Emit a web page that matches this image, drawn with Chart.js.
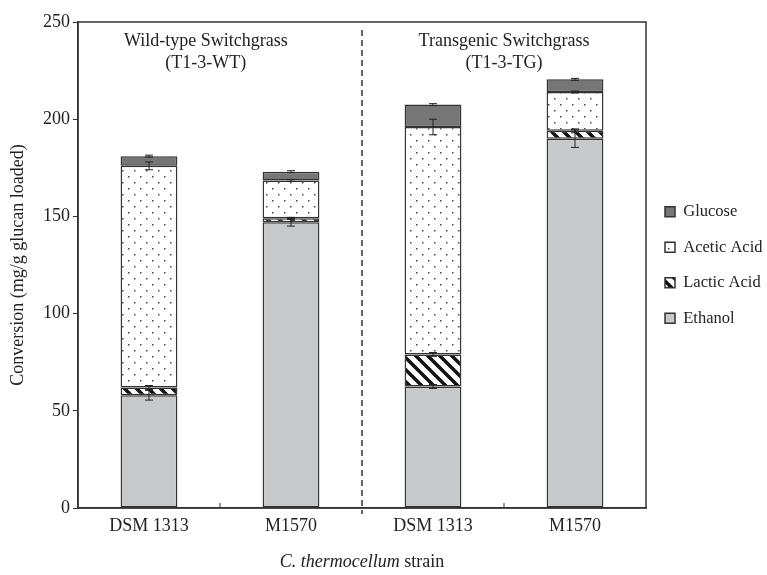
<!DOCTYPE html>
<html>
<head>
<meta charset="utf-8">
<script src="https://cdn.jsdelivr.net/npm/chart.js@4/dist/chart.umd.min.js"></script>
<style>
  html, body { margin: 0; padding: 0; background: #fff; }
  #wrap { width: 767px; height: 575px; }
</style>
</head>
<body>
<div id="wrap"><canvas id="chart"></canvas></div>
<script>
// Datos (mg/g glucan loaded)
const strains = ['DSM 1313', 'M1570', 'DSM 1313', 'M1570'];
const groupTitles = [['Wild-type Switchgrass', '(T1-3-WT)'], ['Transgenic Switchgrass', '(T1-3-TG)']];
const yTicks = [0, 50, 100, 150, 200, 250];

const ethanol = [58, 147, 62.5, 190];
const lacticAcid = [4, 2, 16.5, 4];
const aceticAcid = [114, 19.5, 117, 20];
const glucose = [5, 4.5, 11.5, 6.5];

// barras de error (en la parte superior de cada segmento)
const ethanolErr = [2.5, 2, 1, 4.5];
const lacticErr = [1, 0.5, 1, 1];
const aceticErr = [2, 0.5, 4, 0.5];
const glucoseErr = [0.5, 0.5, 0.5, 0.5];

const SERIF = '"Liberation Serif", "Times New Roman", serif';
const INK = '#222';

function patronPuntos() {
    const c = document.createElement('canvas');
    c.width = 12; c.height = 12;
    const g = c.getContext('2d');
    g.fillStyle = '#fff';
    g.fillRect(0, 0, 12, 12);
    g.fillStyle = '#444';
    g.fillRect(2, 2, 1.5, 1.5);
    g.fillRect(8, 8, 1.5, 1.5);
    return g.createPattern(c, 'repeat');
}

function patronRayas() {
    const c = document.createElement('canvas');
    c.width = 12; c.height = 12;
    const g = c.getContext('2d');
    g.fillStyle = '#fff';
    g.fillRect(0, 0, 12, 12);
    g.strokeStyle = '#111';
    g.lineWidth = 3.5;
    g.beginPath();
    g.moveTo(-3, -3); g.lineTo(15, 15);
    g.moveTo(-3, 9); g.lineTo(3, 15);
    g.moveTo(9, -3); g.lineTo(15, 3);
    g.stroke();
    return g.createPattern(c, 'repeat');
}

const seriesErr = [ethanolErr, lacticErr, aceticErr, glucoseErr];

const decoracion = {
    id: 'decoracion',
    afterDatasetsDraw(chart) {
        const ctx = chart.ctx;
        const area = chart.chartArea;
        const x = chart.scales.x;
        const y = chart.scales.y;
        ctx.save();

        // barras de error
        ctx.strokeStyle = INK;
        ctx.lineWidth = 1;
        chart.data.datasets.forEach((ds, i) => {
            const meta = chart.getDatasetMeta(i);
            ds.data.forEach((v, j) => {
                let top = 0;
                for (let k = 0; k <= i; k++) top += chart.data.datasets[k].data[j];
                const e = seriesErr[i][j];
                const px = meta.data[j].x;
                const y1 = y.getPixelForValue(top - e);
                const y2 = y.getPixelForValue(top + e);
                ctx.beginPath();
                ctx.moveTo(px, y1); ctx.lineTo(px, y2);
                ctx.moveTo(px - 4, y1); ctx.lineTo(px + 4, y1);
                ctx.moveTo(px - 4, y2); ctx.lineTo(px + 4, y2);
                ctx.stroke();
            });
        });

        // marco
        ctx.strokeStyle = '#333';
        ctx.lineWidth = 1.5;
        ctx.strokeRect(area.left, area.top, area.right - area.left, area.bottom - area.top);

        // marcas entre categorías (hacia dentro)
        ctx.lineWidth = 1;
        [0.5, 2.5].forEach(v => {
            const px = x.getPixelForValue(v);
            ctx.beginPath();
            ctx.moveTo(px, area.bottom); ctx.lineTo(px, area.bottom - 5);
            ctx.stroke();
        });

        // línea discontinua separadora
        const mid = x.getPixelForValue(1.5);
        ctx.setLineDash([6, 4]);
        ctx.lineWidth = 1.5;
        ctx.beginPath();
        ctx.moveTo(mid, area.top + 8);
        ctx.lineTo(mid, area.bottom + 6);
        ctx.stroke();
        ctx.setLineDash([]);

        // títulos de grupo
        ctx.fillStyle = INK;
        ctx.font = '18px ' + SERIF;
        ctx.textAlign = 'center';
        ctx.textBaseline = 'middle';
        [0.4, 2.5].forEach((v, i) => {
            const px = x.getPixelForValue(v);
            ctx.fillText(groupTitles[i][0], px, area.top + 19);
            ctx.fillText(groupTitles[i][1], px, area.top + 41);
        });

        // título del eje x con parte en cursiva
        const cx = (area.left + area.right) / 2;
        const ty = 562;
        ctx.font = 'italic 18px ' + SERIF;
        const t1 = 'C. thermocellum';
        const w1 = ctx.measureText(t1).width;
        ctx.font = '18px ' + SERIF;
        const t2 = ' strain';
        const w2 = ctx.measureText(t2).width;
        const x0 = cx - (w1 + w2) / 2;
        ctx.textAlign = 'left';
        ctx.font = 'italic 18px ' + SERIF;
        ctx.fillText(t1, x0, ty);
        ctx.font = '18px ' + SERIF;
        ctx.fillText(t2, x0 + w1, ty);

        ctx.restore();
    }
};

const comun = { borderColor: '#333', borderWidth: 1.5, borderSkipped: false, barPercentage: 0.4, categoryPercentage: 1.0 };

new Chart(document.getElementById('chart'), {
    type: 'bar',
    data: {
        labels: strains,
        datasets: [
            { label: 'Ethanol', data: ethanol, backgroundColor: '#c8c9cb', ...comun },
            { label: 'Lactic Acid', data: lacticAcid, backgroundColor: patronRayas(), ...comun },
            { label: 'Acetic Acid', data: aceticAcid, backgroundColor: patronPuntos(), ...comun },
            { label: 'Glucose', data: glucose, backgroundColor: '#767676', ...comun }
        ]
    },
    options: {
        responsive: true,
        maintainAspectRatio: false,
        animation: false,
        layout: { padding: { top: 22, right: 5, left: 0, bottom: 0 } },
        plugins: {
            tooltip: { enabled: false },
            legend: {
                position: 'right',
                fullSize: false,
                maxWidth: 116,
                reverse: true,
                labels: {
                    boxWidth: 10,
                    boxHeight: 10,
                    padding: 19,
                    color: INK,
                    font: { family: SERIF, size: 16.5 }
                }
            }
        },
        scales: {
            x: {
                stacked: true,
                grid: { display: false, drawTicks: false },
                border: { display: true, color: '#333', width: 1.5 },
                ticks: { color: INK, padding: 7, font: { family: SERIF, size: 18 } },
                afterFit(s) { s.height = 67; }
            },
            y: {
                stacked: true,
                min: 0,
                max: 250,
                afterBuildTicks(s) { s.ticks = yTicks.map(v => ({ value: v })); },
                grid: { drawOnChartArea: false, tickLength: 5, color: '#333' },
                border: { display: true, color: '#333', width: 1.5 },
                ticks: { color: INK, padding: 3, font: { family: SERIF, size: 18 } },
                title: {
                    display: true,
                    text: 'Conversion (mg/g glucan loaded)',
                    color: INK,
                    padding: { top: 7, bottom: 0 },
                    font: { family: SERIF, size: 18 }
                },
                afterFit(s) { s.width = 78; }
            }
        }
    },
    plugins: [decoracion]
});
</script>
</body>
</html>
